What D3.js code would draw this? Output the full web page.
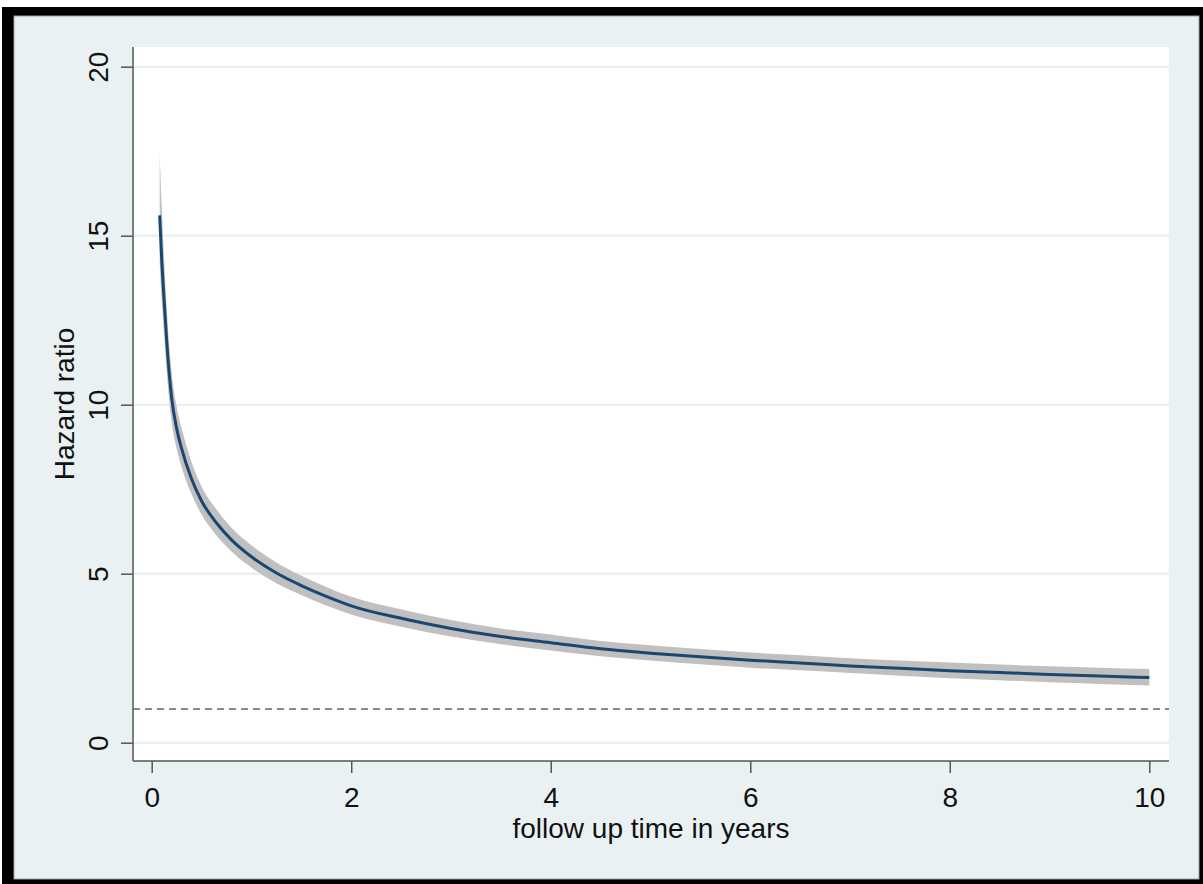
<!DOCTYPE html>
<html>
<head>
<meta charset="utf-8">
<script src="https://cdn.jsdelivr.net/npm/d3@7"></script>
<style>
  body { margin: 0; background: #fff; }
  text { font-family: "Liberation Sans", Arial, sans-serif; fill: #111; }
</style>
</head>
<body>
<svg id="chart" width="1203" height="884"></svg>
<script>
// follow-up time (years) and estimated hazard ratio with 95% CI
const timeYears = [0.08, 0.1, 0.12, 0.15, 0.2, 0.25, 0.3, 0.4, 0.5, 0.65, 0.8, 1.0,
  1.25, 1.5, 1.75, 2.0, 2.5, 3.0, 3.5, 4.0, 4.5, 5.0, 5.5, 6.0, 6.5, 7.0, 7.5,
  8.0, 8.5, 9.0, 9.5, 10.0];
const hazardRatio = [15.6, 14.3, 13.3, 11.9, 10.2, 9.3, 8.7, 7.8, 7.15, 6.5, 6.0, 5.5,
  5.02, 4.65, 4.33, 4.05, 3.68, 3.38, 3.14, 2.96, 2.78, 2.65, 2.54, 2.44, 2.36, 2.27, 2.2,
  2.13, 2.08, 2.02, 1.97, 1.93];
const ciLower = [14.2, 13.1, 12.25, 11.0, 9.5, 8.7, 8.15, 7.35, 6.75, 6.13, 5.66, 5.18,
  4.72, 4.37, 4.06, 3.79, 3.43, 3.14, 2.91, 2.73, 2.56, 2.43, 2.32, 2.22, 2.14, 2.06, 1.98,
  1.91, 1.85, 1.79, 1.74, 1.69];
const ciUpper = [17.4, 15.9, 14.6, 12.9, 10.95, 9.95, 9.3, 8.3, 7.58, 6.9, 6.36, 5.84,
  5.33, 4.94, 4.61, 4.32, 3.95, 3.63, 3.38, 3.2, 3.01, 2.88, 2.77, 2.67, 2.59, 2.5, 2.43,
  2.37, 2.31, 2.26, 2.22, 2.18];

const yTicks = [0, 5, 10, 15, 20];
const xTicks = [0, 2, 4, 6, 8, 10];
const referenceHR = 1;

const data = timeYears.map((t, i) => ({
  t: t, hr: hazardRatio[i], lo: ciLower[i], hi: ciUpper[i]
}));

const svg = d3.select("#chart");

// outer frame (black border + Stata-style light background)
svg.append("rect").attr("x", 2).attr("y", 7).attr("width", 1201).attr("height", 877).attr("fill", "#000");
svg.append("rect").attr("x", 14).attr("y", 16).attr("width", 1185).attr("height", 863)
  .attr("fill", "#EAF1F3").attr("stroke", "#9aa0a2").attr("stroke-width", 1);

// plot region
const plot = { left: 133, right: 1169, top: 47, bottom: 761 };

svg.append("rect")
  .attr("x", plot.left).attr("y", plot.top)
  .attr("width", plot.right - plot.left).attr("height", plot.bottom - plot.top)
  .attr("fill", "#fff");

const x = d3.scaleLinear().domain([0, 10]).range([151.7, 1149.3]);
const y = d3.scaleLinear().domain([0, 20]).range([742.7, 66.7]);

// horizontal grid lines
svg.append("g").selectAll("line")
  .data(yTicks)
  .enter()
  .append("line")
  .attr("x1", plot.left).attr("x2", plot.right)
  .attr("y1", (d) => y(d)).attr("y2", (d) => y(d))
  .attr("stroke", "#EAF1F3").attr("stroke-width", 2.5);

// reference line HR = 1
svg.append("line")
  .attr("x1", plot.left).attr("x2", plot.right)
  .attr("y1", y(referenceHR)).attr("y2", y(referenceHR))
  .attr("stroke", "#666").attr("stroke-width", 1.5)
  .attr("stroke-dasharray", "7,5");

// confidence band
const band = d3.area()
  .x((d) => x(d.t))
  .y0((d) => y(d.lo))
  .y1((d) => y(d.hi))
  .curve(d3.curveMonotoneX);

svg.append("path")
  .datum(data)
  .attr("d", band)
  .attr("fill", "#C0C0C0");

// hazard ratio curve
const line = d3.line()
  .x((d) => x(d.t))
  .y((d) => y(d.hr))
  .curve(d3.curveMonotoneX);

svg.append("path")
  .datum(data)
  .attr("d", line)
  .attr("fill", "none")
  .attr("stroke", "#1A476F")
  .attr("stroke-width", 3);

// axes
const yAxis = svg.append("g").attr("transform", `translate(${plot.left},0)`)
  .call(d3.axisLeft(y).tickValues(yTicks).tickSize(12).tickSizeOuter(0).tickFormat(d3.format("d")));
yAxis.select(".domain").attr("d", `M0,${plot.top}V${plot.bottom}`);
yAxis.selectAll("line, path").attr("stroke", "#555").attr("stroke-width", 1.5);
yAxis.selectAll("text")
  .attr("x", null).attr("dy", null)
  .attr("transform", "translate(-25,0) rotate(-90)")
  .attr("text-anchor", "middle")
  .style("font-size", "28px")
  .style("font-family", "'Liberation Sans', Arial, sans-serif")
  .attr("fill", "#111");

const xAxis = svg.append("g").attr("transform", `translate(0,${plot.bottom})`)
  .call(d3.axisBottom(x).tickValues(xTicks).tickSize(12).tickSizeOuter(0).tickFormat(d3.format("d")));
xAxis.select(".domain").attr("d", `M${plot.left},0H${plot.right}`);
xAxis.selectAll("line, path").attr("stroke", "#555").attr("stroke-width", 1.5);
xAxis.selectAll("text")
  .attr("y", 46).attr("dy", null)
  .style("font-size", "28px")
  .style("font-family", "'Liberation Sans', Arial, sans-serif")
  .attr("fill", "#111");

// axis titles
svg.append("text")
  .attr("transform", `translate(74,${(plot.top + plot.bottom) / 2}) rotate(-90)`)
  .attr("text-anchor", "middle")
  .style("font-size", "28px")
  .text("Hazard ratio");

svg.append("text")
  .attr("x", (plot.left + plot.right) / 2)
  .attr("y", 838)
  .attr("text-anchor", "middle")
  .style("font-size", "28px")
  .text("follow up time in years");
</script>
</body>
</html>
